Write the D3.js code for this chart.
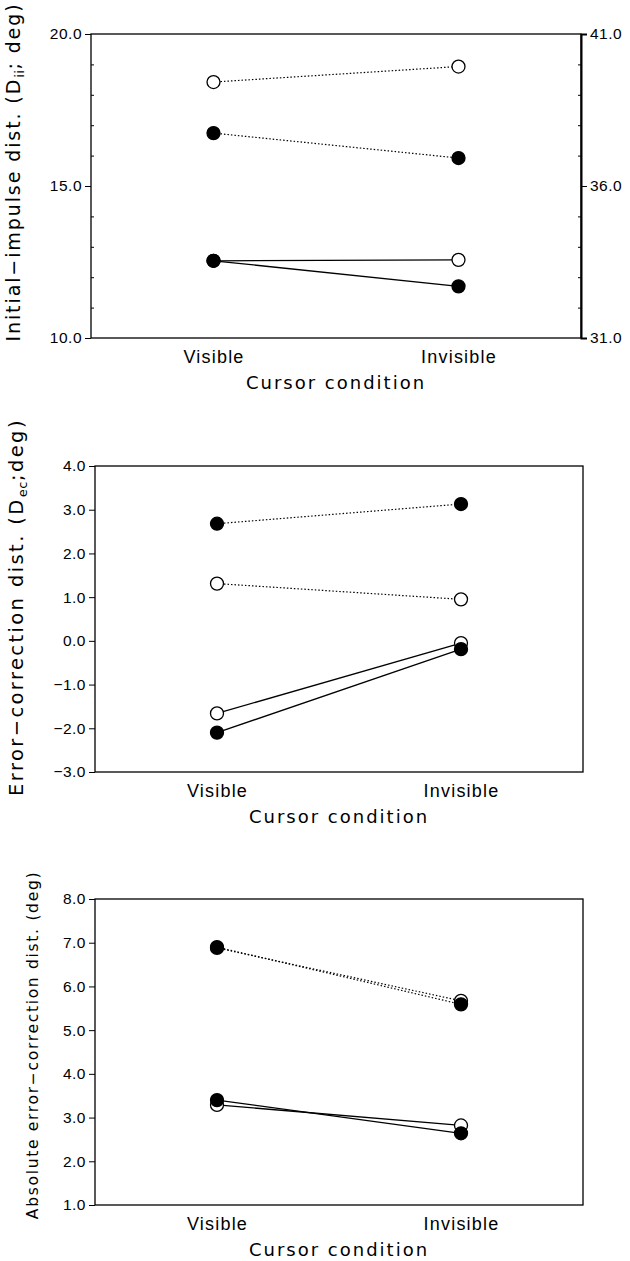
<!DOCTYPE html>
<html lang="en">
  <head>
    <meta charset="UTF-8" />
    <title>Cursor condition</title>
    <script src="https://d3js.org/d3.v7.min.js"></script>
    <style>
      body {
        margin: 0;
        background: #fff;
      }
      svg {
        display: block;
        font-family: "DejaVu Sans", sans-serif;
      }
      .axis path,
      .axis line {
        stroke: #000;
      }
      .axis text {
        fill: #000;
      }
    </style>
  </head>
  <body>
    <script>
      const conditions = ["Visible", "Invisible"];

      // initial-impulse distance (deg)
      const iiOpenDotted = [18.42, 18.93];
      const iiFilledDotted = [16.74, 15.92];
      const iiOpenSolid = [12.54, 12.57];
      const iiFilledSolid = [12.54, 11.7];
      const iiTicks = [10, 15, 20];
      const iiMinorTicks = [11, 12, 13, 14, 16, 17, 18, 19];
      const iiRightTicks = [31, 36, 41];
      const iiRightMinor = [32, 33, 34, 35, 37, 38, 39, 40];

      // error-correction distance (deg)
      const ecFilledDotted = [2.68, 3.13];
      const ecOpenDotted = [1.31, 0.95];
      const ecOpenSolid = [-1.66, -0.05];
      const ecFilledSolid = [-2.1, -0.19];
      const ecTicks = [-3, -2, -1, 0, 1, 2, 3, 4];

      // absolute error-correction distance (deg)
      const absOpenDotted = [6.88, 5.67];
      const absFilledDotted = [6.9, 5.59];
      const absOpenSolid = [3.29, 2.82];
      const absFilledSolid = [3.4, 2.64];
      const absTicks = [1, 2, 3, 4, 5, 6, 7, 8];

      const panels = [
        {
          top: 34, bottom: 338, left: 91, right: 581,
          domain: [10, 20], ticks: iiTicks, minor: iiMinorTicks,
          rightDomain: [31, 41], rightTicks: iiRightTicks, rightMinor: iiRightMinor,
          title: ["Initial\u2212impulse dist. (D", "ii", "; deg)"],
          titleX: 20, titleY: 172, titleSize: 19, titleSpacing: 1.9,
          series: [
            { values: iiOpenDotted, filled: false, dotted: true },
            { values: iiFilledDotted, filled: true, dotted: true },
            { values: iiOpenSolid, filled: false, dotted: false },
            { values: iiFilledSolid, filled: true, dotted: false }
          ]
        },
        {
          top: 466, bottom: 772, left: 95, right: 583,
          domain: [-3, 4], ticks: ecTicks,
          title: ["Error\u2212correction dist. (D", "ec", ";deg)"],
          titleX: 23, titleY: 607, titleSize: 19.5, titleSpacing: 2.4,
          series: [
            { values: ecFilledDotted, filled: true, dotted: true },
            { values: ecOpenDotted, filled: false, dotted: true },
            { values: ecOpenSolid, filled: false, dotted: false },
            { values: ecFilledSolid, filled: true, dotted: false }
          ]
        },
        {
          top: 899, bottom: 1205, left: 95, right: 583,
          domain: [1, 8], ticks: absTicks,
          title: ["Absolute error\u2212correction dist. (deg)"],
          titleX: 38, titleY: 1045, titleSize: 15.5, titleSpacing: 1.7,
          series: [
            { values: absOpenDotted, filled: false, dotted: true },
            { values: absFilledDotted, filled: true, dotted: true },
            { values: absOpenSolid, filled: false, dotted: false },
            { values: absFilledSolid, filled: true, dotted: false }
          ]
        }
      ];

      const svg = d3.select("body").append("svg")
        .attr("width", 630)
        .attr("height", 1261);

      const fmt = d3.format(".1f");

      panels.forEach(p => {
        const g = svg.append("g");
        const x = d3.scalePoint().domain(conditions).range([p.left, p.right]).padding(0.5);
        const y = d3.scaleLinear().domain(p.domain).range([p.bottom, p.top]);

        // frame
        g.append("rect")
          .attr("x", p.left).attr("y", p.top)
          .attr("width", p.right - p.left).attr("height", p.bottom - p.top)
          .attr("fill", "none").attr("stroke", "#000").attr("stroke-width", 1.3);

        // left axis
        const la = g.append("g").attr("class", "axis")
          .attr("transform", `translate(${p.left},0)`)
          .call(d3.axisLeft(y).tickValues(p.ticks).tickFormat(fmt).tickSize(6).tickPadding(3));
        la.select(".domain").remove();
        la.selectAll("text").style("font-size", "15.5px").style("letter-spacing", "0.5px");

        if (p.minor) {
          const lm = g.append("g").attr("class", "axis")
            .attr("transform", `translate(${p.left},0)`)
            .call(d3.axisLeft(y).tickValues(p.minor).tickFormat("").tickSize(-3));
          lm.select(".domain").remove();
        }

        if (p.rightDomain) {
          const y2 = d3.scaleLinear().domain(p.rightDomain).range([p.bottom, p.top]);
          const ra = g.append("g").attr("class", "axis")
            .attr("transform", `translate(${p.right},0)`)
            .call(d3.axisRight(y2).tickValues(p.rightTicks).tickFormat(fmt).tickSize(6).tickPadding(3));
          ra.select(".domain").attr("stroke-width", 2);
          ra.selectAll("text").style("font-size", "15.5px").style("letter-spacing", "0.5px");
          const rm = g.append("g").attr("class", "axis")
            .attr("transform", `translate(${p.right},0)`)
            .call(d3.axisRight(y2).tickValues(p.rightMinor).tickFormat("").tickSize(-3));
          rm.select(".domain").remove();
        }

        // condition labels
        const xa = g.append("g").attr("class", "axis")
          .attr("transform", `translate(0,${p.bottom})`)
          .call(d3.axisBottom(x).tickSize(0).tickPadding(12));
        xa.select(".domain").remove();
        xa.selectAll("text").style("font-size", "18px").style("letter-spacing", "1.2px");

        g.append("text")
          .attr("x", (p.left + p.right) / 2)
          .attr("y", p.bottom + 51)
          .attr("text-anchor", "middle")
          .style("font-size", "18px")
          .style("letter-spacing", "2px")
          .text("Cursor condition");

        // y title
        const t = g.append("text")
          .attr("transform", `translate(${p.titleX},${p.titleY}) rotate(-90)`)
          .attr("text-anchor", "middle")
          .style("font-size", p.titleSize + "px")
          .style("letter-spacing", p.titleSpacing + "px");
        t.append("tspan").text(p.title[0]);
        if (p.title.length > 1) {
          t.append("tspan").attr("dy", 4).style("font-size", "13px").style("letter-spacing", "0.5px").text(p.title[1]);
          t.append("tspan").attr("dy", -4).text(p.title[2]);
        }

        // lines
        const line = d3.line()
          .x((d, i) => x(conditions[i]))
          .y(d => y(d));

        g.selectAll("path.series")
          .data(p.series)
          .join("path")
          .attr("class", "series")
          .attr("d", s => line(s.values))
          .attr("fill", "none")
          .attr("stroke", "#000")
          .attr("stroke-width", s => s.dotted ? 1.2 : 1.3)
          .attr("stroke-dasharray", s => s.dotted ? "1.5,2" : null);

        // markers: open first, filled on top
        const pts = [];
        p.series.filter(s => !s.filled).concat(p.series.filter(s => s.filled)).forEach(s => {
          s.values.forEach((v, i) => pts.push({ c: conditions[i], v: v, filled: s.filled }));
        });
        g.selectAll("circle")
          .data(pts)
          .join("circle")
          .attr("cx", d => x(d.c))
          .attr("cy", d => y(d.v))
          .attr("r", 6.5)
          .attr("fill", d => d.filled ? "#000" : "#fff")
          .attr("stroke", "#000")
          .attr("stroke-width", 1.3);
      });
    </script>
  </body>
</html>
